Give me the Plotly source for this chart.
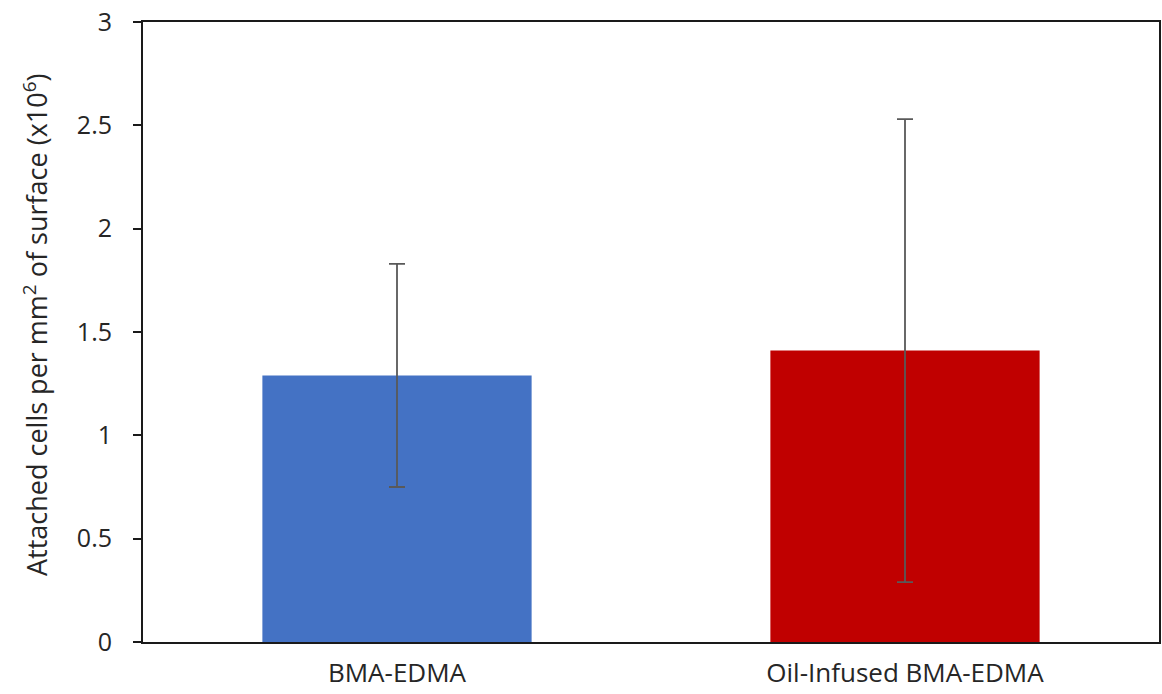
import plotly.graph_objects as go

categories = ["BMA-EDMA", "Oil-Infused BMA-EDMA"]
values = [1.29, 1.41]
errors = [0.54, 1.12]
colors = ["#4472C4", "#C00000"]
y_ticks = [0, 0.5, 1, 1.5, 2, 2.5, 3]
y_ticklabels = ["0", "0.5", "1", "1.5", "2", "2.5", "3"]
y_title = "Attached cells per mm<sup>2</sup> of surface (x10<sup>6</sup>)"

fig = go.Figure(go.Bar(
    x=categories, y=values, width=0.53,
    marker=dict(color=colors, line=dict(width=0)),
    error_y=dict(type="data", array=errors, visible=True,
                 color="#595959", thickness=1.8, width=8),
))

font = dict(family="Open Sans, Liberation Sans, sans-serif", size=25, color="#262626")
fig.update_layout(
    width=1162, height=694,
    margin=dict(l=143, r=3, t=22, b=52),
    paper_bgcolor="white", plot_bgcolor="white",
    showlegend=False, font=font,
)
fig.update_yaxes(
    range=[0, 3], tickvals=y_ticks, ticktext=y_ticklabels,
    showgrid=False, zeroline=False, automargin=False,
    showline=True, linecolor="#1a1a1a", linewidth=2, mirror=True,
    ticks="outside", ticklen=8, tickwidth=2, tickcolor="#1a1a1a",
    tickfont=dict(size=25, color="#262626"), ticklabelstandoff=16,
)
fig.update_xaxes(
    showgrid=False, showline=True, linecolor="#1a1a1a", linewidth=2, mirror=True,
    automargin=False,
    ticks="", tickfont=dict(size=26, color="#262626"), ticklabelstandoff=7,
)
fig.add_annotation(
    text=y_title, textangle=-90, showarrow=False,
    xref="paper", yref="paper", x=0, y=0.5, xanchor="center", yanchor="middle",
    xshift=-108, yshift=7, font=dict(size=27, color="#262626"),
)
fig.write_html("out.html", config={"displayModeBar": False},
               post_script="document.body.style.margin='0';")
